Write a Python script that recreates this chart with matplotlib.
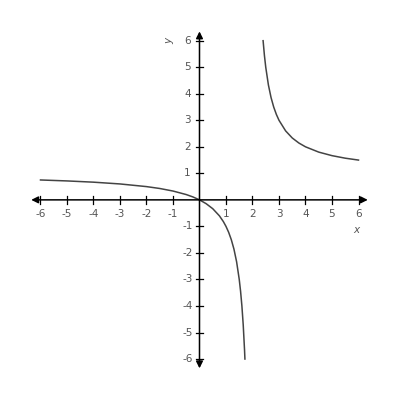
import matplotlib
matplotlib.use("Agg")
import matplotlib.pyplot as plt

# values
left_x = [-6, -5, -4, -3, -2, -1.5, -1, -0.5, -0.25, 0, 0.25, 0.5, 0.75, 0.9, 1, 1.1,
          1.2, 1.3, 1.4, 1.5, 1.55, 1.6, 1.65, 1.7, 1.714]
left_y = [0.75, 0.714, 0.667, 0.6, 0.5, 0.429, 0.333, 0.2, 0.111, 0, -0.143, -0.333, -0.6,
          -0.818, -1, -1.222, -1.5, -1.857, -2.333, -3, -3.444, -4, -4.714, -5.667, -6]
right_x = [2.4, 2.45, 2.5, 2.6, 2.7, 2.8, 2.9, 3, 3.25, 3.5, 3.75, 4, 4.5, 5, 5.5, 6]
right_y = [6, 5.444, 5, 4.333, 3.857, 3.5, 3.222, 3, 2.6, 2.333, 2.143, 2, 1.8, 1.667,
           1.571, 1.5]
ticks = [-6, -5, -4, -3, -2, -1, 1, 2, 3, 4, 5, 6]

fig = plt.figure(figsize=(4, 4), dpi=100)
ax = fig.add_axes([0, 0, 1, 1])
ax.set_xlim(-7.528, 7.566)
ax.set_ylim(-7.544, 7.534)
ax.axis("off")

# axes with arrow heads
arrow = dict(arrowstyle="<|-|>", color="black", lw=1.1, mutation_scale=10,
             shrinkA=0, shrinkB=0)
ax.annotate("", xy=(6.35, 0), xytext=(-6.35, 0), arrowprops=arrow)
ax.annotate("", xy=(0, 6.35), xytext=(0, -6.35), arrowprops=arrow)

tl = 0.15
for t in ticks:
    ax.plot([t, t], [-tl, tl], color="black", lw=0.9)
    ax.plot([-tl, tl], [t, t], color="black", lw=0.9)
    ax.text(t, -0.52, str(t), ha="center", va="center", fontsize=7.5, color="#555555")
    ax.text(-0.45, t, str(t), ha="center", va="center", fontsize=7.5, color="#555555")

ax.text(5.9, -1.15, "x", ha="center", va="center", fontsize=7.5, style="italic", color="#555555")
ax.text(-1.15, 6.0, "y", ha="center", va="center", fontsize=7.5, style="italic",
        rotation=90, color="#555555")

ax.plot(left_x, left_y, color="#444444", lw=1.1)
ax.plot(right_x, right_y, color="#444444", lw=1.1)

fig.savefig("out.png", dpi=100)
plt.close(fig)
